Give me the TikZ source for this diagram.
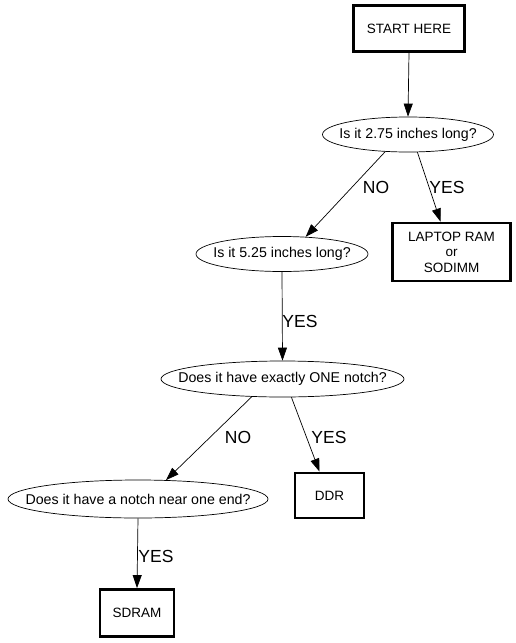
\documentclass[tikz,border=0pt]{standalone}
\usepackage{fontspec}
\setmainfont{Liberation Sans}
\usetikzlibrary{shapes.geometric,arrows.meta}
\begin{document}
\begin{tikzpicture}[x=1pt,y=-1pt,
  box/.style={draw,line width=2.8pt,rectangle,inner sep=0pt,align=center,font=\fontsize{13.5}{15.5}\selectfont},
  ell/.style={draw,line width=0.7pt,ellipse,inner sep=0pt,font=\fontsize{14.2}{16}\selectfont},
  edge/.style={line width=0.7pt,-{Triangle[length=13pt,width=9pt]}},
  lbl/.style={font=\fontsize{17.5}{19}\selectfont,inner sep=0pt}]
\useasboundingbox (0,0) rectangle (515,643);
\node[box,minimum width=111pt,minimum height=46pt] (start) at (409,28.5) {START HERE};
\node[ell,minimum width=171pt,minimum height=35pt] (e1) at (408,134.5) {\makebox[0pt]{Is it 2.75 inches long?}};
\node[box,minimum width=118pt,minimum height=58pt] (laptop) at (451.5,252) {LAPTOP RAM\\or\\SODIMM};
\node[ell,minimum width=172pt,minimum height=35pt] (e2) at (282,254) {\makebox[0pt]{Is it 5.25 inches long?}};
\node[ell,minimum width=243pt,minimum height=36pt] (e3) at (282.5,379) {\makebox[0pt]{Does it have exactly ONE notch?}};
\node[box,minimum width=69pt,minimum height=45pt] (ddr) at (329.5,495.5) {DDR};
\node[ell,minimum width=260pt,minimum height=38pt] (e4) at (138,499) {\makebox[0pt]{Does it have a notch near one end?}};
\node[box,minimum width=74pt,minimum height=47pt] (sdram) at (137,613) {SDRAM};
\draw[edge] (start.south) -- (e1.north);
\draw[edge] (e1.-143) -- (e2.36);
\draw[edge] (e1.-62) -- ([xshift=-11pt]laptop.north);
\draw[edge] (e2.south) -- (e3.north);
\draw[edge] (e3.-150) -- (e4.34);
\draw[edge] (e3.-64) -- ([xshift=-10pt]ddr.north);
\draw[edge] (e4.south) -- (sdram.north);
\node[lbl] (l1) at (376,187) {NO};
\node[lbl] (l2) at (447,187) {YES};
\node[lbl] (l3) at (300,321) {YES};
\node[lbl] (l4) at (238,437) {NO};
\node[lbl] (l5) at (329,437) {YES};
\node[lbl] (l6) at (156,556) {YES};
\end{tikzpicture}
\end{document}
